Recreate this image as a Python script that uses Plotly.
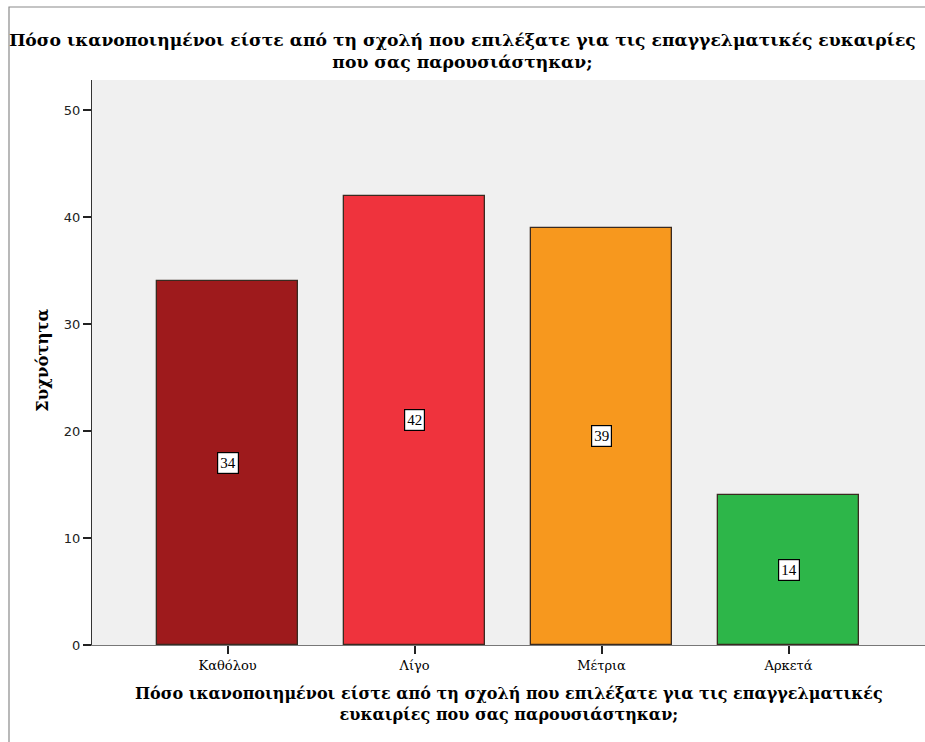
import plotly.graph_objects as go

categories = ["Καθόλου", "Λίγο", "Μέτρια", "Αρκετά"]
counts = [34, 42, 39, 14]
colors = ["#9E1A1C", "#EF333D", "#F7981E", "#2DB649"]
y_ticks = [0, 10, 20, 30, 40, 50]
title_lines = ["Πόσο ικανοποιημένοι είστε από τη σχολή που επιλέξατε για τις επαγγελματικές ευκαιρίες",
               "που σας παρουσιάστηκαν;"]
xtitle_lines = ["Πόσο ικανοποιημένοι είστε από τη σχολή που επιλέξατε για τις επαγγελματικές",
                "ευκαιρίες που σας παρουσιάστηκαν;"]
ytitle_text = "Συχνότητα"

W, H = 925, 742
L, R, T, B = 92, 0, 80, 97
pw, ph = W - L - R, H - T - B
SERIF = "DejaVu Serif"

def px_to_paper_x(px):
    return (px - L) / pw

def px_to_paper_y(py):
    return (H - B - py) / ph

def bold_lines(lines):
    return "<br>".join("<b>" + s + "</b>" for s in lines)

fig = go.Figure()
fig.add_trace(go.Bar(
    x=list(range(len(categories))), y=counts,
    marker=dict(color=colors, line=dict(color="#3a2a20", width=1.3)),
    width=0.757, hoverinfo="skip",
))

for i, v in enumerate(counts):
    fig.add_annotation(x=i, y=v / 2, xref="x", yref="y", text=str(v), showarrow=False,
                       font=dict(family="Liberation Serif", size=15, color="black"),
                       bgcolor="white", bordercolor="black", borderwidth=1.2, borderpad=2)

fig.add_annotation(xref="paper", yref="paper", x=0.5, y=px_to_paper_y(704), text=bold_lines(xtitle_lines),
                   showarrow=False, xanchor="center", yanchor="middle",
                   font=dict(family=SERIF, size=16, color="black"))
fig.add_annotation(xref="paper", yref="paper", x=px_to_paper_x(42), y=px_to_paper_y(360),
                   text="<b>" + ytitle_text + "</b>",
                   showarrow=False, xanchor="center", yanchor="middle", textangle=-90,
                   font=dict(family=SERIF, size=16.5, color="black"))

# outer frame of the image
fig.add_shape(type="rect", xref="paper", yref="paper",
              x0=px_to_paper_x(9), x1=px_to_paper_x(940), y0=px_to_paper_y(760), y1=px_to_paper_y(7),
              line=dict(color="#8a8a8a", width=1.2), fillcolor="rgba(0,0,0,0)", layer="below")

fig.update_layout(
    width=W, height=H,
    margin=dict(l=L, r=R, t=T, b=B),
    paper_bgcolor="white", plot_bgcolor="#F0F0F0",
    showlegend=False,
    bargap=0,
    title=dict(text=bold_lines(title_lines), xref="container", x=0.5, xanchor="center",
               yref="container", y=1 - 46 / H, yanchor="middle",
               font=dict(family=SERIF, size=17.2, color="black")),
    xaxis=dict(range=[-0.725, 3.73], tickmode="array", tickvals=list(range(len(categories))),
               ticktext=categories, ticks="outside", ticklen=8, tickwidth=1.5, tickcolor="#222",
               showline=True, linecolor="#777", linewidth=1.2, showgrid=False, zeroline=False,
               tickfont=dict(family=SERIF, size=13, color="black"), fixedrange=True),
    yaxis=dict(range=[0, 52.8], tickmode="array", tickvals=y_ticks, ticks="outside", ticklen=8,
               tickwidth=1.5, tickcolor="#222", showline=True, linecolor="#333", linewidth=1.2,
               showgrid=False, zeroline=False,
               tickfont=dict(family="DejaVu Sans", size=13, color="#222"), fixedrange=True),
)

fig.write_html("out.html", config={"displayModeBar": False},
               post_script="document.body.style.margin='0';document.body.style.overflow='hidden';")
